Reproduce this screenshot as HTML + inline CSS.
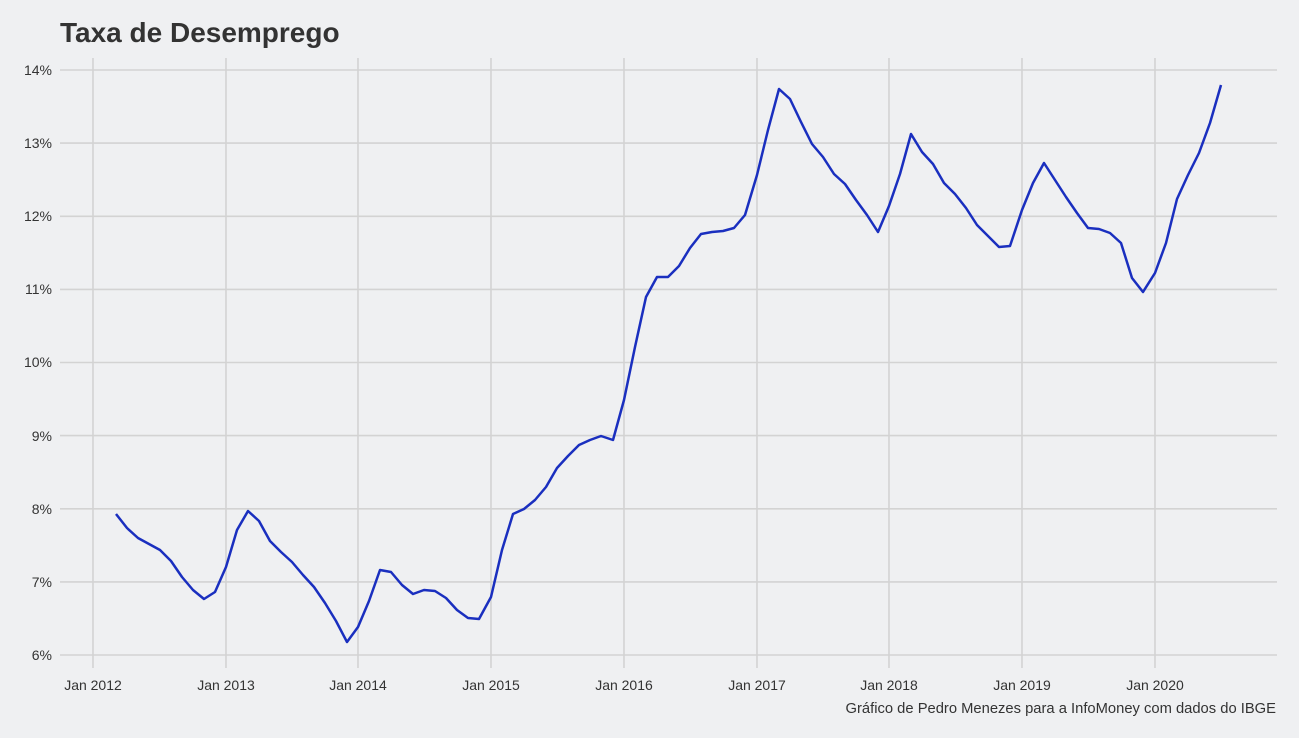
<!DOCTYPE html>
<html><head><meta charset="utf-8"><style>
html,body{margin:0;padding:0;background:#eff0f2;}
svg{display:block;font-family:"Liberation Sans",Arial,sans-serif;}
</style></head><body>
<svg width="1299" height="738" viewBox="0 0 1299 738" xmlns="http://www.w3.org/2000/svg">
<rect width="1299" height="738" fill="#eff0f2"/>
<text x="60" y="42" font-size="28" font-weight="bold" fill="#333">Taxa de Desemprego</text>
<g stroke="#d3d3d3" stroke-width="1.6">
<line x1="60" x2="1277" y1="70" y2="70"/><line x1="60" x2="1277" y1="143.1" y2="143.1"/>
<line x1="60" x2="1277" y1="216.3" y2="216.3"/><line x1="60" x2="1277" y1="289.4" y2="289.4"/>
<line x1="60" x2="1277" y1="362.5" y2="362.5"/><line x1="60" x2="1277" y1="435.6" y2="435.6"/>
<line x1="60" x2="1277" y1="508.8" y2="508.8"/><line x1="60" x2="1277" y1="581.9" y2="581.9"/>
<line x1="60" x2="1277" y1="655" y2="655"/>
<line x1="93" x2="93" y1="58" y2="668"/><line x1="226" x2="226" y1="58" y2="668"/>
<line x1="358" x2="358" y1="58" y2="668"/><line x1="491" x2="491" y1="58" y2="668"/>
<line x1="624" x2="624" y1="58" y2="668"/><line x1="757" x2="757" y1="58" y2="668"/>
<line x1="889" x2="889" y1="58" y2="668"/><line x1="1022" x2="1022" y1="58" y2="668"/>
<line x1="1155" x2="1155" y1="58" y2="668"/>
</g>
<g font-size="14" fill="#333" text-anchor="end">
<text x="52" y="75">14%</text><text x="52" y="148">13%</text><text x="52" y="221">12%</text>
<text x="52" y="294">11%</text><text x="52" y="367">10%</text><text x="52" y="441">9%</text>
<text x="52" y="514">8%</text><text x="52" y="587">7%</text><text x="52" y="660">6%</text>
</g>
<g font-size="14" fill="#333" text-anchor="middle">
<text x="93" y="690">Jan 2012</text><text x="226" y="690">Jan 2013</text><text x="358" y="690">Jan 2014</text>
<text x="491" y="690">Jan 2015</text><text x="624" y="690">Jan 2016</text><text x="757" y="690">Jan 2017</text>
<text x="889" y="690">Jan 2018</text><text x="1022" y="690">Jan 2019</text><text x="1155" y="690">Jan 2020</text>
</g>
<text x="1276" y="713" font-size="14.75" fill="#333" text-anchor="end">Gráfico de Pedro Menezes para a InfoMoney com dados do IBGE</text>
<polyline fill="none" stroke="#1a2fbf" stroke-width="2.5" stroke-linejoin="round" points="
116,514 127,528 138,538 149,544 160,550 171,561 182,577 193,590 204,599 215,592
226,567 237,530 248,511 259,521 270,541 281,552 292,562 303,575 314,587 325,603 336,621 347,642
358,627 369,601 380,570 391,572 402,585 413,594 424,590 435,591 446,598 457,610 468,618 479,619
491,597 502,550 513,514 524,509 535,500 546,487 557,468 568,456 579,445 590,440 601,436 613,440
624,400 635,347 646,297 657,277 668,277 679,266 690,248 701,234 712,232 723,231 734,228 745,215
757,175 768,130 779,89 790,99 801,122 812,144 823,157 834,174 845,184 856,200 867,215 878,232
889,206 900,174 911,134 922,152 933,164 944,183 955,194 966,208 977,225 988,236 999,247 1010,246
1022,210 1033,183 1044,163 1055,180 1066,197 1077,213 1088,228 1099,229 1110,233 1121,243 1132,278 1143,292
1155,273 1166,243 1177,199 1188,175 1199,153 1210,123 1221,85"/>
</svg>
</body></html>
